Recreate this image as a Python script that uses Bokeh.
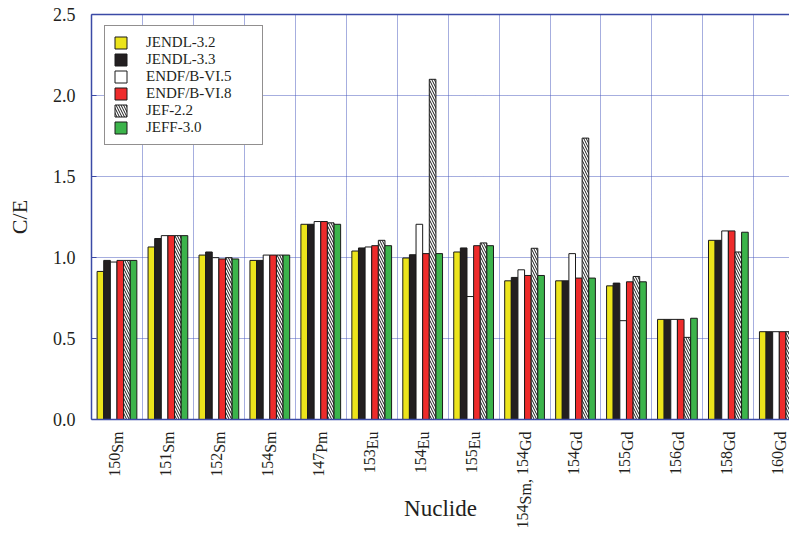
import math
from bokeh.plotting import figure
from bokeh.layouts import column
from bokeh.models import FixedTicker, LinearAxis, Range1d, ColumnDataSource
from bokeh.core.properties import value
from bokeh.embed import file_html
from bokeh.resources import INLINE

# ---------------- data ----------------
nuclides = [
    [("150", "Sm")], [("151", "Sm")], [("152", "Sm")], [("154", "Sm")],
    [("147", "Pm")], [("153", "Eu")], [("154", "Eu")], [("155", "Eu")],
    [("154", "Sm"), ("154", "Gd")], [("154", "Gd")], [("155", "Gd")],
    [("156", "Gd")], [("158", "Gd")], [("160", "Gd")],
]
libraries = ["JENDL-3.2", "JENDL-3.3", "ENDF/B-VI.5", "ENDF/B-VI.8", "JEF-2.2", "JEFF-3.0"]
jendl32 = [0.914, 1.065, 1.015, 0.982, 1.205, 1.040, 0.997, 1.034, 0.856, 0.856, 0.825, 0.618, 1.106, 0.542]
jendl33 = [0.982, 1.117, 1.034, 0.982, 1.205, 1.059, 1.017, 1.059, 0.877, 0.856, 0.842, 0.618, 1.106, 0.542]
endf65 = [0.972, 1.135, 0.999, 1.015, 1.222, 1.065, 1.205, 0.759, 0.924, 1.024, 0.610, 0.618, 1.164, 0.542]
endf68 = [0.982, 1.135, 0.991, 1.015, 1.222, 1.073, 1.024, 1.073, 0.889, 0.873, 0.850, 0.618, 1.164, 0.542]
jef22 = [0.982, 1.135, 0.999, 1.015, 1.214, 1.106, 2.100, 1.090, 1.057, 1.737, 0.883, 0.507, 1.034, 0.542]
jeff30 = [0.982, 1.135, 0.991, 1.015, 1.205, 1.073, 1.024, 1.073, 0.889, 0.873, 0.850, 0.625, 1.156, 0.542]
series = [jendl32, jendl33, endf65, endf68, jef22, jeff30]
y_ticks = [0.0, 0.5, 1.0, 1.5, 2.0, 2.5]
y_tick_labels = ["0.0", "0.5", "1.0", "1.5", "2.0", "2.5"]
x_title = "Nuclide"
y_title = "C/E"

# ---------------- styles ----------------
fills = ["#ece41b", "#231f20", "#ffffff", "#ee2b2b", "#ffffff", "#3cb44b"]
hatches = [None, None, None, None, "\\", None]
BLUE = "#3b4aa6"
GRID = "#4c5cbf"
FONT = "Liberation Serif"
INK = "#231f20"

W = 789
LEFT = 91
TOP = 14
FRAME_H = 405
BOTTOM_GAP = 10
H_TOTAL = 529

n = len(nuclides)
bar_w = 0.13
x_end = 13.7

p = figure(width=W, height=TOP + FRAME_H + BOTTOM_GAP, output_backend="svg",
           toolbar_location=None,
           x_range=Range1d(0, x_end), y_range=Range1d(0, 2.5),
           min_border_left=LEFT, min_border_right=0, min_border_top=TOP,
           min_border_bottom=BOTTOM_GAP)
p.background_fill_color = "white"
p.border_fill_color = "white"
p.outline_line_color = None

for k, (name, vals) in enumerate(zip(libraries, series)):
    xs = [i + 0.5 + (k - 2.5) * bar_w for i in range(n)]
    src = ColumnDataSource(dict(x=xs, top=vals))
    kw = dict(x="x", top="top", width=bar_w, bottom=0, source=src,
              fill_color=fills[k], line_color="#1a1a1a", line_width=1,
              legend_label=name)
    if hatches[k]:
        kw.update(hatch_pattern=hatches[k], hatch_color="#1a1a1a",
                  hatch_scale=5, hatch_weight=1)
    p.vbar(**kw)

# grids
p.xgrid.ticker = FixedTicker(ticks=[float(b) for b in range(1, n)])
p.ygrid.ticker = FixedTicker(ticks=y_ticks)
for g in (p.xgrid, p.ygrid):
    g.grid_line_color = GRID
    g.grid_line_dash = "1 1"
    g.grid_line_width = 1

# x axis (bottom): line only
p.xaxis.ticker = FixedTicker(ticks=[])
p.xaxis.axis_line_color = BLUE
p.xaxis.axis_line_width = 1.5
p.xaxis.major_tick_out = 0
p.xaxis.major_tick_in = 0
p.xaxis.minor_tick_out = 0
p.xaxis.minor_tick_in = 0
p.xaxis.major_label_standoff = 0
p.xaxis.major_label_text_font_size = "0px"

# y axis
p.yaxis.ticker = FixedTicker(ticks=y_ticks)
p.yaxis.major_label_overrides = {t: s for t, s in zip(y_ticks, y_tick_labels)}
p.yaxis.axis_line_color = BLUE
p.yaxis.axis_line_width = 1.5
p.yaxis.major_tick_in = 5
p.yaxis.major_tick_out = 0
p.yaxis.major_tick_line_color = BLUE
p.yaxis.minor_tick_in = 0
p.yaxis.minor_tick_out = 0
p.yaxis.major_label_standoff = 16
p.yaxis.major_label_text_font = FONT
p.yaxis.major_label_text_font_size = "18px"
p.yaxis.major_label_text_color = INK
p.yaxis.axis_label = y_title
p.yaxis.axis_label_text_font = FONT
p.yaxis.axis_label_text_font_size = "22px"
p.yaxis.axis_label_text_font_style = "normal"
p.yaxis.axis_label_text_color = INK
p.yaxis.axis_label_standoff = 18

# top border line
top = LinearAxis(ticker=FixedTicker(ticks=[]), axis_line_color=BLUE, axis_line_width=1.5,
                 major_tick_out=0, major_tick_in=0, minor_tick_out=0, minor_tick_in=0,
                 major_label_standoff=0, major_label_text_font_size="0px")
p.add_layout(top, "above")

# legend (location = bottom-left corner offset from the frame's bottom-left)
lg = p.legend[0]
lg.location = (13, 274)
lg.padding = 8
lg.spacing = 0
lg.glyph_width = 15
lg.glyph_height = 15
lg.label_height = 16
lg.label_width = 108
lg.label_standoff = 18
lg.label_text_font = FONT
lg.label_text_font_size = "15px"
lg.label_text_line_height = 1.0
lg.label_text_color = INK
lg.border_line_color = INK
lg.border_line_width = 1.2
lg.background_fill_color = "white"
lg.background_fill_alpha = 1.0

# ---------------- category labels strip (below the axis) ----------------
# y units here are pixels below the x-axis line
H2 = H_TOTAL - (TOP + FRAME_H + BOTTOM_GAP)
p2 = figure(width=W, height=H2, output_backend="svg", toolbar_location=None,
            x_range=p.x_range, y_range=Range1d(-(BOTTOM_GAP + H2), -BOTTOM_GAP),
            x_axis_type=None, y_axis_type=None,
            min_border_left=LEFT, min_border_right=0, min_border_top=0, min_border_bottom=0)
p2.outline_line_color = None
p2.grid.visible = False
p2.background_fill_color = "white"
p2.border_fill_color = "white"

widths = {"0": 0.5, "1": 0.5, "2": 0.5, "3": 0.5, "4": 0.5, "5": 0.5, "6": 0.5,
          "7": 0.5, "8": 0.5, "9": 0.5, "S": 0.556, "m": 0.778, "P": 0.556,
          "E": 0.611, "u": 0.5, "G": 0.722, "d": 0.5, ",": 0.25, " ": 0.25}
fs = 16
gap = 12


def tw(s):
    return sum(widths.get(c, 0.5) for c in s) * fs


lx, ly, lt, lo = [], [], [], []
for i, parts in enumerate(nuclides):
    segs = []
    for j, (mass, el) in enumerate(parts):
        segs.append((mass, True, 0.0))
        if j < len(parts) - 1:
            segs.append((el + ",", False, widths[" "] * fs))
        else:
            segs.append((el, False, 0.0))
    cum = 0.0
    for text, sup, extra in reversed(segs):
        cum += extra
        lx.append(i + 0.5)
        ly.append(-(gap + cum))
        lt.append(text)
        lo.append(-2.0 if sup else 1.0)
        cum += tw(text)

lab_src = ColumnDataSource(dict(x=lx, y=ly, text=lt, xo=lo))
p2.text(x="x", y="y", text="text", x_offset="xo", source=lab_src,
        angle=math.pi / 2, text_align="right", text_baseline="middle",
        text_font=value(FONT), text_font_size=value(f"{fs}px"), text_color=INK)

p2.text(x=[x_end / 2], y=[-89], text=[x_title], text_align="center",
        text_baseline="alphabetic", text_font=value(FONT),
        text_font_size=value("23px"), text_color=INK)

layout = column(p, p2, spacing=0)
open("out.html", "w").write(file_html(layout, INLINE))
